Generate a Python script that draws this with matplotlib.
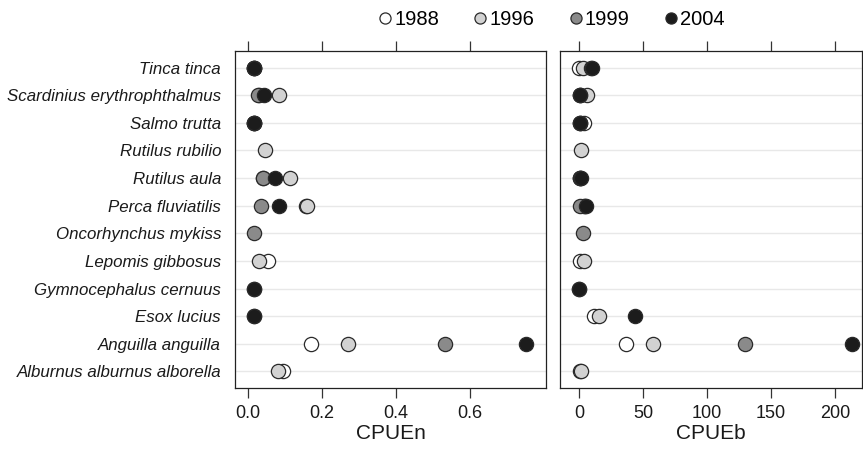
import numpy as np
import matplotlib.pyplot as plt
from matplotlib.lines import Line2D

plt.rcParams['font.family'] = ['Liberation Sans', 'DejaVu Sans']

species = ['Tinca tinca', 'Scardinius erythrophthalmus', 'Salmo trutta', 'Rutilus rubilio',
           'Rutilus aula', 'Perca fluviatilis', 'Oncorhynchus mykiss', 'Lepomis gibbosus',
           'Gymnocephalus cernuus', 'Esox lucius', 'Anguilla anguilla', 'Alburnus alburnus alborella']
years = ['1988', '1996', '1999', '2004']
nan = np.nan

# CPUEn per year, one value per species (top to bottom)
cpuen_1988 = [0.015, 0.03, 0.015, nan, 0.04, 0.157, nan, 0.055, nan, nan, 0.169, 0.095]
cpuen_1996 = [0.016, 0.085, 0.016, 0.046, 0.113, 0.159, nan, 0.031, nan, nan, 0.271, 0.082]
cpuen_1999 = [0.016, 0.028, 0.016, nan, 0.041, 0.035, 0.016, nan, 0.016, 0.016, 0.532, nan]
cpuen_2004 = [0.016, 0.043, 0.016, nan, 0.074, 0.084, nan, nan, 0.016, 0.016, 0.752, nan]

# CPUEb per year
cpueb_1988 = [-0.5, 1.0, 4.0, nan, 1.0, 4.0, nan, 1.0, nan, 11.7, 36.7, 1.0]
cpueb_1996 = [2.6, 6.0, 1.0, 1.6, 1.0, 4.5, nan, 3.4, nan, 15.1, 57.3, 1.3]
cpueb_1999 = [9.5, 0.5, 0.5, nan, 1.0, 0.8, 2.6, nan, 0.2, nan, 129.7, nan]
cpueb_2004 = [9.9, 0.5, 0.5, nan, 1.3, 5.2, nan, nan, 0.0, 43.7, 213.0, nan]

colors = ['#ffffff', '#d2d2d2', '#8a8a8a', '#1c1c1c']
edge = '#2a2a2a'

fig = plt.figure(figsize=(8.63, 4.49), dpi=100)
ax1 = fig.add_axes([0.2723, 0.1359, 0.3604, 0.7506])
ax2 = fig.add_axes([0.6489, 0.1359, 0.3499, 0.7506])

ypos = np.arange(len(species))[::-1]

panels = [
    (ax1, [cpuen_1988, cpuen_1996, cpuen_1999, cpuen_2004], (-0.035, 0.805),
     [0.0, 0.2, 0.4, 0.6], ['0.0', '0.2', '0.4', '0.6'], 'CPUEn'),
    (ax2, [cpueb_1988, cpueb_1996, cpueb_1999, cpueb_2004], (-15, 221),
     [0, 50, 100, 150, 200], ['0', '50', '100', '150', '200'], 'CPUEb'),
]

for ax, series, xlim, ticks, ticklabels, xlabel in panels:
    for y in ypos:
        ax.axhline(y, color='#e8e8e8', linewidth=1.0, zorder=0)
    for i, vals in enumerate(series):
        ax.scatter(vals, ypos, s=105, facecolor=colors[i], edgecolor=edge,
                   linewidth=0.9, zorder=2 + i)
    ax.set_xlim(*xlim)
    ax.set_ylim(-0.6, 11.6)
    ax.set_xticks(ticks)
    ax.set_xticklabels(ticklabels, fontsize=13, color='#1a1a1a')
    ax.tick_params(axis='x', top=True, bottom=True, direction='out', length=7,
                   width=0.9, color='#333333', pad=5)
    ax.set_xlabel(xlabel, fontsize=15, color='#1a1a1a', labelpad=2)
    for sp in ax.spines.values():
        sp.set_color('#222222')
        sp.set_linewidth(0.9)

ax1.set_yticks(ypos)
ax1.set_yticklabels(species, fontsize=12.2, style='italic', color='#1a1a1a')
ax1.tick_params(axis='y', length=0, pad=10)
ax2.set_yticks([])

handles = [Line2D([], [], marker='o', linestyle='', markersize=8,
                  markerfacecolor=colors[i], markeredgecolor=edge, markeredgewidth=0.9)
           for i in range(4)]
fig.legend(handles, years, loc='center', bbox_to_anchor=(0.637, 0.957), ncol=4,
           frameon=False, fontsize=14.5, handletextpad=-0.05, columnspacing=1.55,
           handlelength=1.0)

fig.savefig('out.png', dpi=100)
